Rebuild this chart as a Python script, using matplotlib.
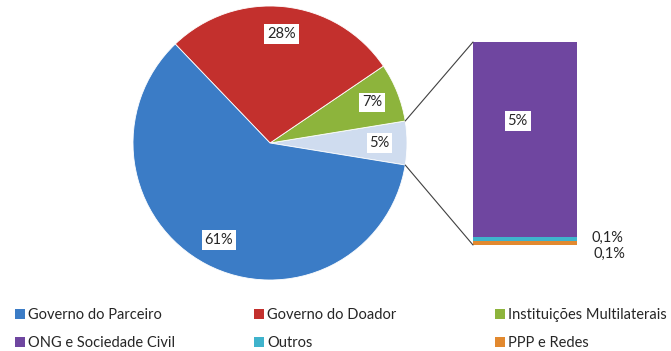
import matplotlib.pyplot as plt
from matplotlib.patches import ConnectionPatch, Patch
import numpy as np

plt.rcParams["font.family"] = ["Lato", "DejaVu Sans"]

# pie slices, counter-clockwise from the right (the "other" slice is split in the bar)
pie_names = ["Outros (agregado)", "Instituições Multilaterais", "Governo do Doador", "Governo do Parceiro"]
pie_values = [5.2, 7, 28, 61]
pie_labels = ["5%", "7%", "28%", "61%"]
pie_colors = ["#cfdcef", "#8db43c", "#c3302d", "#3b7cc6"]

# bar breakdown of the aggregated slice, bottom to top
bar_names = ["PPP e Redes", "Outros", "ONG e Sociedade Civil"]
bar_values = [0.1, 0.1, 5]
bar_labels = ["0,1%", "0,1%", "5%"]
bar_colors = ["#e2892f", "#3fb3cc", "#6f46a0"]

legend_cols = [
    [("Governo do Parceiro", "#3b7cc6"), ("ONG e Sociedade Civil", "#6f46a0")],
    [("Governo do Doador", "#c3302d"), ("Outros", "#3fb3cc")],
    [("Instituições Multilaterais", "#8db43c"), ("PPP e Redes", "#e2892f")],
]

W, H = 671, 351
FS = 10.5
TXT = "#262626"
fig = plt.figure(figsize=(W / 100, H / 100), dpi=100)

# -- pie -----------------------------------------------------------------
ax_pie = fig.add_axes([133 / W, (H - 280) / H, 274 / W, 274 / H])
half = pie_values[0] / sum(pie_values) * 180
wedges, texts = ax_pie.pie(
    pie_values,
    labels=pie_labels,
    colors=pie_colors,
    startangle=-half,
    counterclock=True,
    labeldistance=0.8,
    wedgeprops=dict(edgecolor="white", linewidth=0.6),
    textprops=dict(fontsize=FS, ha="center", va="center", color=TXT),
)
for t in texts:
    t.set_bbox(dict(facecolor="white", edgecolor="none", pad=2))
ax_pie.set_xlim(-1, 1)
ax_pie.set_ylim(-1, 1)
ax_pie.set_aspect("equal")
ax_pie.axis("off")

# -- bar -----------------------------------------------------------------
ax_bar = fig.add_axes([473 / W, (H - 245) / H, 104 / W, 203 / H])
bottom = 0
for v, c in zip(bar_values, bar_colors):
    ax_bar.bar(0, v, width=1, bottom=bottom, color=c, edgecolor="none")
    bottom += v
total = sum(bar_values)
ax_bar.set_xlim(-0.5, 0.5)
ax_bar.set_ylim(0, total)
ax_bar.axis("off")

ax_bar.text(0.43, 0.61, bar_labels[2], ha="center", va="center", fontsize=FS, color=TXT,
            transform=ax_bar.transAxes,
            bbox=dict(facecolor="white", edgecolor="none", pad=2))
fig.text(591 / W, 1 - 238 / H, bar_labels[1], ha="left", va="center", fontsize=FS, color=TXT)
fig.text(593 / W, 1 - 254 / H, bar_labels[0], ha="left", va="center", fontsize=FS, color=TXT)

# -- connector lines ------------------------------------------------------
a = np.deg2rad(half)
for sign, yb in [(1, total), (-1, 0)]:
    con = ConnectionPatch(
        xyA=(np.cos(a), sign * np.sin(a)), coordsA=ax_pie.transData,
        xyB=(-0.5, yb), coordsB=ax_bar.transData,
        color="#404040", linewidth=0.8,
    )
    fig.add_artist(con)

# -- legend ---------------------------------------------------------------
for x0, col in zip([15, 254, 495], legend_cols):
    handles = [Patch(facecolor=c, edgecolor="none", label=n) for n, c in col]
    fig.legend(handles=handles, loc="upper left", bbox_to_anchor=(x0 / W, 1 - 308 / H),
               frameon=False, fontsize=FS, handlelength=0.7, handleheight=0.7,
               handletextpad=0.2, labelspacing=0.95, borderaxespad=0, borderpad=0,
               labelcolor=TXT)

fig.savefig("out.png", dpi=100)
